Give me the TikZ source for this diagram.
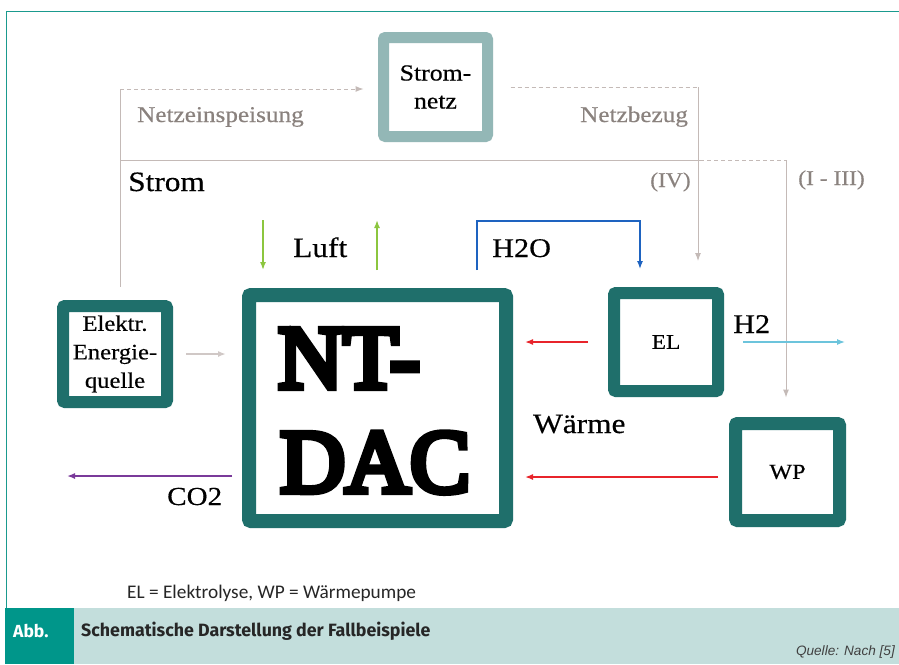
\documentclass[tikz,border=0pt]{standalone}
\usepackage{fontspec}
\setmainfont{Liberation Serif}
\newfontfamily\geo[FakeStretch=1.12,FakeBold=0.4]{Liberation Serif}
\newfontfamily\dacfont[FakeBold=7]{Liberation Serif}
\newfontfamily\capfont{Fira Sans}
\newfontfamily\notefont{Carlito}
\newfontfamily\srcfont{Liberation Sans}
\usetikzlibrary{arrows.meta}
\definecolor{boxteal}{HTML}{1F6F6B}
\definecolor{netzcol}{HTML}{93B7B6}
\definecolor{linegray}{HTML}{C4BAB7}
\definecolor{txtgray}{HTML}{8A827E}
\definecolor{framecol}{HTML}{1A9A8E}
\definecolor{abbteal}{HTML}{00968A}
\definecolor{bandlight}{HTML}{C3DEDC}
\definecolor{heatred}{HTML}{E8242B}
\definecolor{airgreen}{HTML}{8CC63F}
\definecolor{waterblue}{HTML}{1E63C0}
\definecolor{hblue}{HTML}{6CC4DC}
\definecolor{co2purple}{HTML}{7A3A9A}
\definecolor{feedgray}{HTML}{D0C8C6}
\begin{document}
\begin{tikzpicture}[x=1pt,y=-1pt,
  unit/.style={draw=boxteal, fill=white, rounded corners=2pt, inner sep=0pt, align=center, text=black},
  glabel/.style={anchor=base west, inner sep=0pt, font=\geo\fontsize{28}{32}\selectfont},
  graylabel/.style={anchor=base west, inner sep=0pt, text=txtgray, font=\geo\fontsize{22.5}{26}\selectfont},
  thinline/.style={draw=linegray, line width=1pt},
  dashline/.style={draw=linegray, line width=1pt, dash pattern=on 4pt off 3pt},
  gtip/.style={-{Latex[length=8pt,width=6pt]}}
]
\useasboundingbox (0,0) rectangle (899,664);
\fill[white] (0,0) rectangle (899,664);

% frame and caption band
\draw[framecol, line width=1.5pt] (6.5,608) -- (6.5,11.5) -- (899,11.5);
\fill[bandlight] (74,608) rectangle (899,664);
\fill[abbteal] (5,608) rectangle (74,664);
\node[anchor=base west, inner sep=0pt, text=white, font=\capfont\bfseries\fontsize{17.5}{20}\selectfont] (abb) at (13,637) {Abb.};
\node[anchor=base west, inner sep=0pt, text=black!85, font=\capfont\bfseries\fontsize{17.8}{20}\selectfont] (title) at (81,636) {Schematische Darstellung der Fallbeispiele};
\node[anchor=base east, inner sep=0pt, text=black!75, font=\srcfont\itshape\fontsize{13.6}{16}\selectfont] (src) at (895,655) {Quelle: Nach [5]};
\node[anchor=base west, inner sep=0pt, text=black!85, font=\notefont\fontsize{19.3}{22}\selectfont] (note) at (127,598) {EL = Elektrolyse, WP = Wärmepumpe};

% boxes
\node[unit, draw=netzcol, line width=11pt, minimum width=104pt, minimum height=99pt,
      font=\geo\fontsize{23}{28}\selectfont] (netz) at (435.5,87) {Strom-\\netz};
\node[unit, line width=12pt, minimum width=104pt, minimum height=96pt,
      font=\geo\fontsize{22}{28.5}\selectfont] (elek) at (115,354) {Elektr.\\Energie-\\quelle};
\node[unit, line width=14pt, minimum width=257pt, minimum height=226pt] (dac) at (377.5,408) {};
\node[anchor=base west, inner sep=0pt, font=\dacfont\fontsize{90}{104}\selectfont] (dac1) at (278,388) {NT-};
\node[anchor=base west, inner sep=0pt, font=\dacfont\fontsize{90}{104}\selectfont] (dac2) at (280,492) {DAC};
\node[unit, line width=12pt, minimum width=104pt, minimum height=98pt,
      font=\geo\fontsize{21}{24}\selectfont] (el) at (666,342) {EL};
\node[unit, line width=13pt, minimum width=104pt, minimum height=97pt,
      font=\geo\fontsize{21.5}{24}\selectfont] (wp) at (787.5,472) {WP};

% grid feed (Netzeinspeisung)
\coordinate (cA) at (120,89);
\draw[dashline, gtip] (cA) -- (cA -| netz.west) [shorten >=14.5pt];
\draw[thinline] (cA) -- (cA |- elek.north) [shorten >=13pt];
% Strom line
\coordinate (s0) at (120,160);
\coordinate (s1) at (700,160);
\coordinate (s2) at (786,160);
\draw[thinline] (s0) -- (s1);
\draw[dashline] (s1) -- (s2);
\draw[thinline, gtip] (s2) -- (s2 |- wp.north) [shorten >=19.5pt];
% grid draw (Netzbezug)
\coordinate (n1) at (698,87);
\draw[dashline] (netz.east |- n1) -- (n1) [shorten <=17.5pt];
\draw[thinline, gtip] (n1) -- (n1 |- el.north) [shorten >=26pt];

% labels of grid lines
\node[graylabel] (lfeed) at (137,122) {Netzeinspeisung};
\node[graylabel] (lbezug) at (580,122) {Netzbezug};
\node[graylabel, font=\geo\fontsize{21}{24}\selectfont] (liv) at (650,187) {(IV)};
\node[graylabel, font=\geo\fontsize{21}{24}\selectfont] (li3) at (798,185) {(I - III)};
\node[glabel] (lstrom) at (128,191) {Strom};

% air
\coordinate (la) at (263,220);
\coordinate (lb) at (263,270);
\coordinate (lc) at (377,270);
\coordinate (ld) at (377,220);
\draw[airgreen, line width=1.5pt, gtip] (la) -- (lb);
\draw[airgreen, line width=1.5pt, gtip] (lc) -- (ld);
\node[glabel] (lluft) at (293,257) {Luft};

% water
\coordinate (wa) at (477,270);
\coordinate (wb) at (477,221);
\coordinate (wc) at (640,221);
\coordinate (wd) at (640,269);
\draw[waterblue, line width=1.3pt, gtip] (wa) -- (wb) -- (wc) -- (wd);
\node[glabel, font=\geo\fontsize{27}{30}\selectfont] (lh2o) at (492,257) {H2O};

% electricity into DAC
\draw[feedgray, line width=2pt, gtip] (elek.east) -- (elek.east -| dac.west) [shorten <=13pt, shorten >=16pt];

% heat
\draw[heatred, line width=1.5pt, gtip] (el.west) -- (el.west -| dac.east) [shorten <=20pt, shorten >=12pt];
\coordinate (w1) at (718,477);
\draw[heatred, line width=1.5pt, gtip] (w1) -- (w1 -| dac.east) [shorten >=12pt];
\node[glabel] (lwaerme) at (533,433) {Wärme};

% hydrogen
\coordinate (h2end) at (845,342);
\draw[hblue, line width=1.3pt, gtip] (el.east) -- (h2end) [shorten <=19pt];
\node[glabel, font=\geo\fontsize{27}{30}\selectfont] (lh2) at (733,333) {H2};

% CO2
\coordinate (c0) at (232,476);
\coordinate (c1) at (67,476);
\draw[co2purple, line width=1.5pt, gtip] (c0) -- (c1);
\node[glabel, font=\geo\fontsize{26}{30}\selectfont] (lco2) at (167,505) {CO2};
\end{tikzpicture}
\end{document}
